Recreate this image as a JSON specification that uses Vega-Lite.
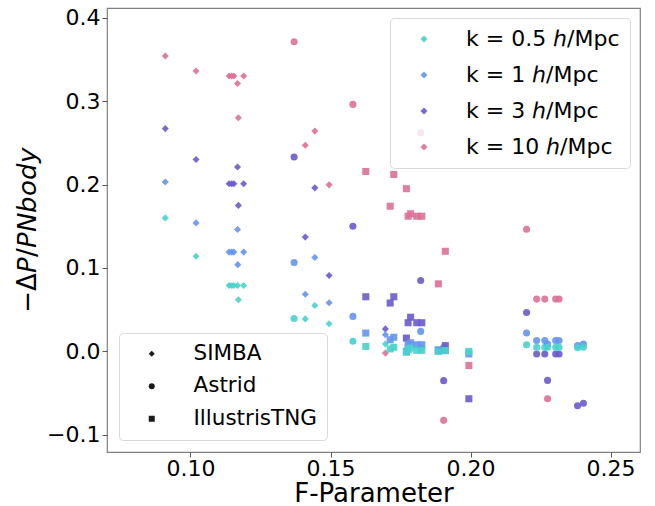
{
 "$schema": "https://vega.github.io/schema/vega-lite/v6.json",
 "width": 533,
 "height": 444,
 "autosize": "none",
 "padding": {"left": 107, "top": 8, "right": 15, "bottom": 54},
 "config": {
  "font": "DejaVu Sans",
  "view": {"stroke": "#808080", "strokeWidth": 1.2},
  "axis": {"grid": false, "domain": false, "tickColor": "#555555", "tickSize": 5, "tickWidth": 1, "labelFontSize": 22, "labelColor": "black", "titleFontSize": 26, "titleFontWeight": "normal", "titleColor": "black"}
 },
 "data": {"values": [
  {"F": 0.091, "dP": 0.354, "k": "k = 10 ℎ/Mpc", "sim": "SIMBA"},
  {"F": 0.091, "dP": 0.267, "k": "k = 3 ℎ/Mpc", "sim": "SIMBA"},
  {"F": 0.091, "dP": 0.203, "k": "k = 1 ℎ/Mpc", "sim": "SIMBA"},
  {"F": 0.091, "dP": 0.160, "k": "k = 0.5 ℎ/Mpc", "sim": "SIMBA"},
  {"F": 0.102, "dP": 0.336, "k": "k = 10 ℎ/Mpc", "sim": "SIMBA"},
  {"F": 0.102, "dP": 0.230, "k": "k = 3 ℎ/Mpc", "sim": "SIMBA"},
  {"F": 0.102, "dP": 0.154, "k": "k = 1 ℎ/Mpc", "sim": "SIMBA"},
  {"F": 0.102, "dP": 0.114, "k": "k = 0.5 ℎ/Mpc", "sim": "SIMBA"},
  {"F": 0.1138, "dP": 0.330, "k": "k = 10 ℎ/Mpc", "sim": "SIMBA"},
  {"F": 0.1138, "dP": 0.201, "k": "k = 3 ℎ/Mpc", "sim": "SIMBA"},
  {"F": 0.1138, "dP": 0.119, "k": "k = 1 ℎ/Mpc", "sim": "SIMBA"},
  {"F": 0.1138, "dP": 0.079, "k": "k = 0.5 ℎ/Mpc", "sim": "SIMBA"},
  {"F": 0.1147, "dP": 0.330, "k": "k = 10 ℎ/Mpc", "sim": "SIMBA"},
  {"F": 0.1147, "dP": 0.201, "k": "k = 3 ℎ/Mpc", "sim": "SIMBA"},
  {"F": 0.1147, "dP": 0.119, "k": "k = 1 ℎ/Mpc", "sim": "SIMBA"},
  {"F": 0.1147, "dP": 0.079, "k": "k = 0.5 ℎ/Mpc", "sim": "SIMBA"},
  {"F": 0.1155, "dP": 0.330, "k": "k = 10 ℎ/Mpc", "sim": "SIMBA"},
  {"F": 0.1155, "dP": 0.201, "k": "k = 3 ℎ/Mpc", "sim": "SIMBA"},
  {"F": 0.1155, "dP": 0.119, "k": "k = 1 ℎ/Mpc", "sim": "SIMBA"},
  {"F": 0.1155, "dP": 0.079, "k": "k = 0.5 ℎ/Mpc", "sim": "SIMBA"},
  {"F": 0.1168, "dP": 0.321, "k": "k = 10 ℎ/Mpc", "sim": "SIMBA"},
  {"F": 0.1168, "dP": 0.221, "k": "k = 3 ℎ/Mpc", "sim": "SIMBA"},
  {"F": 0.1168, "dP": 0.146, "k": "k = 1 ℎ/Mpc", "sim": "SIMBA"},
  {"F": 0.1168, "dP": 0.079, "k": "k = 0.5 ℎ/Mpc", "sim": "SIMBA"},
  {"F": 0.1171, "dP": 0.280, "k": "k = 10 ℎ/Mpc", "sim": "SIMBA"},
  {"F": 0.1171, "dP": 0.175, "k": "k = 3 ℎ/Mpc", "sim": "SIMBA"},
  {"F": 0.1169, "dP": 0.104, "k": "k = 1 ℎ/Mpc", "sim": "SIMBA"},
  {"F": 0.1171, "dP": 0.062, "k": "k = 0.5 ℎ/Mpc", "sim": "SIMBA"},
  {"F": 0.1190, "dP": 0.330, "k": "k = 10 ℎ/Mpc", "sim": "SIMBA"},
  {"F": 0.1190, "dP": 0.201, "k": "k = 3 ℎ/Mpc", "sim": "SIMBA"},
  {"F": 0.1190, "dP": 0.119, "k": "k = 1 ℎ/Mpc", "sim": "SIMBA"},
  {"F": 0.1190, "dP": 0.079, "k": "k = 0.5 ℎ/Mpc", "sim": "SIMBA"},
  {"F": 0.141, "dP": 0.247, "k": "k = 10 ℎ/Mpc", "sim": "SIMBA"},
  {"F": 0.141, "dP": 0.137, "k": "k = 3 ℎ/Mpc", "sim": "SIMBA"},
  {"F": 0.141, "dP": 0.0686, "k": "k = 1 ℎ/Mpc", "sim": "SIMBA"},
  {"F": 0.141, "dP": 0.039, "k": "k = 0.5 ℎ/Mpc", "sim": "SIMBA"},
  {"F": 0.1444, "dP": 0.264, "k": "k = 10 ℎ/Mpc", "sim": "SIMBA"},
  {"F": 0.1444, "dP": 0.196, "k": "k = 3 ℎ/Mpc", "sim": "SIMBA"},
  {"F": 0.1444, "dP": 0.1126, "k": "k = 1 ℎ/Mpc", "sim": "SIMBA"},
  {"F": 0.1444, "dP": 0.055, "k": "k = 0.5 ℎ/Mpc", "sim": "SIMBA"},
  {"F": 0.1495, "dP": 0.1996, "k": "k = 10 ℎ/Mpc", "sim": "SIMBA"},
  {"F": 0.1495, "dP": 0.091, "k": "k = 3 ℎ/Mpc", "sim": "SIMBA"},
  {"F": 0.1495, "dP": 0.0583, "k": "k = 1 ℎ/Mpc", "sim": "SIMBA"},
  {"F": 0.1495, "dP": 0.0332, "k": "k = 0.5 ℎ/Mpc", "sim": "SIMBA"},
  {"F": 0.1696, "dP": -0.002, "k": "k = 10 ℎ/Mpc", "sim": "SIMBA"},
  {"F": 0.1696, "dP": 0.027, "k": "k = 3 ℎ/Mpc", "sim": "SIMBA"},
  {"F": 0.1696, "dP": 0.020, "k": "k = 1 ℎ/Mpc", "sim": "SIMBA"},
  {"F": 0.1696, "dP": 0.009, "k": "k = 0.5 ℎ/Mpc", "sim": "SIMBA"},
  {"F": 0.137, "dP": 0.371, "k": "k = 10 ℎ/Mpc", "sim": "Astrid"},
  {"F": 0.137, "dP": 0.233, "k": "k = 3 ℎ/Mpc", "sim": "Astrid"},
  {"F": 0.137, "dP": 0.1066, "k": "k = 1 ℎ/Mpc", "sim": "Astrid"},
  {"F": 0.137, "dP": 0.0395, "k": "k = 0.5 ℎ/Mpc", "sim": "Astrid"},
  {"F": 0.158, "dP": 0.296, "k": "k = 10 ℎ/Mpc", "sim": "Astrid"},
  {"F": 0.158, "dP": 0.150, "k": "k = 3 ℎ/Mpc", "sim": "Astrid"},
  {"F": 0.158, "dP": 0.042, "k": "k = 1 ℎ/Mpc", "sim": "Astrid"},
  {"F": 0.158, "dP": 0.0123, "k": "k = 0.5 ℎ/Mpc", "sim": "Astrid"},
  {"F": 0.1822, "dP": 0.262, "k": "k = 10 ℎ/Mpc", "sim": "Astrid"},
  {"F": 0.1822, "dP": 0.085, "k": "k = 3 ℎ/Mpc", "sim": "Astrid"},
  {"F": 0.1822, "dP": 0.024, "k": "k = 1 ℎ/Mpc", "sim": "Astrid"},
  {"F": 0.1822, "dP": 0.004, "k": "k = 0.5 ℎ/Mpc", "sim": "Astrid"},
  {"F": 0.1904, "dP": -0.0826, "k": "k = 10 ℎ/Mpc", "sim": "Astrid"},
  {"F": 0.1904, "dP": -0.035, "k": "k = 3 ℎ/Mpc", "sim": "Astrid"},
  {"F": 0.1904, "dP": 0.005, "k": "k = 1 ℎ/Mpc", "sim": "Astrid"},
  {"F": 0.1904, "dP": 0.003, "k": "k = 0.5 ℎ/Mpc", "sim": "Astrid"},
  {"F": 0.2200, "dP": 0.1465, "k": "k = 10 ℎ/Mpc", "sim": "Astrid"},
  {"F": 0.2200, "dP": 0.0467, "k": "k = 3 ℎ/Mpc", "sim": "Astrid"},
  {"F": 0.2200, "dP": 0.022, "k": "k = 1 ℎ/Mpc", "sim": "Astrid"},
  {"F": 0.2200, "dP": 0.008, "k": "k = 0.5 ℎ/Mpc", "sim": "Astrid"},
  {"F": 0.2236, "dP": 0.0627, "k": "k = 10 ℎ/Mpc", "sim": "Astrid"},
  {"F": 0.2236, "dP": -0.003, "k": "k = 3 ℎ/Mpc", "sim": "Astrid"},
  {"F": 0.2236, "dP": 0.013, "k": "k = 1 ℎ/Mpc", "sim": "Astrid"},
  {"F": 0.2236, "dP": 0.005, "k": "k = 0.5 ℎ/Mpc", "sim": "Astrid"},
  {"F": 0.2265, "dP": 0.0627, "k": "k = 10 ℎ/Mpc", "sim": "Astrid"},
  {"F": 0.2265, "dP": -0.003, "k": "k = 3 ℎ/Mpc", "sim": "Astrid"},
  {"F": 0.2265, "dP": 0.013, "k": "k = 1 ℎ/Mpc", "sim": "Astrid"},
  {"F": 0.2265, "dP": 0.005, "k": "k = 0.5 ℎ/Mpc", "sim": "Astrid"},
  {"F": 0.2275, "dP": -0.0567, "k": "k = 10 ℎ/Mpc", "sim": "Astrid"},
  {"F": 0.2275, "dP": -0.0347, "k": "k = 3 ℎ/Mpc", "sim": "Astrid"},
  {"F": 0.2275, "dP": 0.009, "k": "k = 1 ℎ/Mpc", "sim": "Astrid"},
  {"F": 0.2275, "dP": 0.005, "k": "k = 0.5 ℎ/Mpc", "sim": "Astrid"},
  {"F": 0.2304, "dP": 0.0627, "k": "k = 10 ℎ/Mpc", "sim": "Astrid"},
  {"F": 0.2304, "dP": -0.003, "k": "k = 3 ℎ/Mpc", "sim": "Astrid"},
  {"F": 0.2304, "dP": 0.013, "k": "k = 1 ℎ/Mpc", "sim": "Astrid"},
  {"F": 0.2304, "dP": 0.005, "k": "k = 0.5 ℎ/Mpc", "sim": "Astrid"},
  {"F": 0.2316, "dP": 0.0627, "k": "k = 10 ℎ/Mpc", "sim": "Astrid"},
  {"F": 0.2316, "dP": -0.003, "k": "k = 3 ℎ/Mpc", "sim": "Astrid"},
  {"F": 0.2316, "dP": 0.013, "k": "k = 1 ℎ/Mpc", "sim": "Astrid"},
  {"F": 0.2316, "dP": 0.005, "k": "k = 0.5 ℎ/Mpc", "sim": "Astrid"},
  {"F": 0.2382, "dP": -0.065, "k": "k = 3 ℎ/Mpc", "sim": "Astrid"},
  {"F": 0.2382, "dP": 0.0072, "k": "k = 1 ℎ/Mpc", "sim": "Astrid"},
  {"F": 0.2382, "dP": 0.0044, "k": "k = 0.5 ℎ/Mpc", "sim": "Astrid"},
  {"F": 0.2403, "dP": -0.062, "k": "k = 3 ℎ/Mpc", "sim": "Astrid"},
  {"F": 0.2403, "dP": 0.009, "k": "k = 1 ℎ/Mpc", "sim": "Astrid"},
  {"F": 0.2403, "dP": 0.005, "k": "k = 0.5 ℎ/Mpc", "sim": "Astrid"},
  {"F": 0.1626, "dP": 0.2156, "k": "k = 10 ℎ/Mpc", "sim": "IllustrisTNG"},
  {"F": 0.1626, "dP": 0.0655, "k": "k = 3 ℎ/Mpc", "sim": "IllustrisTNG"},
  {"F": 0.1626, "dP": 0.022, "k": "k = 1 ℎ/Mpc", "sim": "IllustrisTNG"},
  {"F": 0.1626, "dP": 0.006, "k": "k = 0.5 ℎ/Mpc", "sim": "IllustrisTNG"},
  {"F": 0.1713, "dP": 0.174, "k": "k = 10 ℎ/Mpc", "sim": "IllustrisTNG"},
  {"F": 0.1713, "dP": 0.058, "k": "k = 3 ℎ/Mpc", "sim": "IllustrisTNG"},
  {"F": 0.1713, "dP": 0.014, "k": "k = 1 ℎ/Mpc", "sim": "IllustrisTNG"},
  {"F": 0.1713, "dP": 0.003, "k": "k = 0.5 ℎ/Mpc", "sim": "IllustrisTNG"},
  {"F": 0.1726, "dP": 0.212, "k": "k = 10 ℎ/Mpc", "sim": "IllustrisTNG"},
  {"F": 0.1726, "dP": 0.0655, "k": "k = 3 ℎ/Mpc", "sim": "IllustrisTNG"},
  {"F": 0.1726, "dP": 0.017, "k": "k = 1 ℎ/Mpc", "sim": "IllustrisTNG"},
  {"F": 0.1726, "dP": 0.005, "k": "k = 0.5 ℎ/Mpc", "sim": "IllustrisTNG"},
  {"F": 0.1771, "dP": 0.195, "k": "k = 10 ℎ/Mpc", "sim": "IllustrisTNG"},
  {"F": 0.1771, "dP": 0.016, "k": "k = 3 ℎ/Mpc", "sim": "IllustrisTNG"},
  {"F": 0.1771, "dP": 0.000, "k": "k = 1 ℎ/Mpc", "sim": "IllustrisTNG"},
  {"F": 0.1771, "dP": -0.001, "k": "k = 0.5 ℎ/Mpc", "sim": "IllustrisTNG"},
  {"F": 0.1777, "dP": 0.162, "k": "k = 10 ℎ/Mpc", "sim": "IllustrisTNG"},
  {"F": 0.1777, "dP": 0.0344, "k": "k = 3 ℎ/Mpc", "sim": "IllustrisTNG"},
  {"F": 0.1777, "dP": 0.008, "k": "k = 1 ℎ/Mpc", "sim": "IllustrisTNG"},
  {"F": 0.1777, "dP": 0.002, "k": "k = 0.5 ℎ/Mpc", "sim": "IllustrisTNG"},
  {"F": 0.1786, "dP": 0.165, "k": "k = 10 ℎ/Mpc", "sim": "IllustrisTNG"},
  {"F": 0.1786, "dP": 0.041, "k": "k = 3 ℎ/Mpc", "sim": "IllustrisTNG"},
  {"F": 0.1786, "dP": 0.0104, "k": "k = 1 ℎ/Mpc", "sim": "IllustrisTNG"},
  {"F": 0.1786, "dP": 0.004, "k": "k = 0.5 ℎ/Mpc", "sim": "IllustrisTNG"},
  {"F": 0.1808, "dP": 0.162, "k": "k = 10 ℎ/Mpc", "sim": "IllustrisTNG"},
  {"F": 0.1808, "dP": 0.0344, "k": "k = 3 ℎ/Mpc", "sim": "IllustrisTNG"},
  {"F": 0.1808, "dP": 0.008, "k": "k = 1 ℎ/Mpc", "sim": "IllustrisTNG"},
  {"F": 0.1808, "dP": 0.0013, "k": "k = 0.5 ℎ/Mpc", "sim": "IllustrisTNG"},
  {"F": 0.1826, "dP": 0.162, "k": "k = 10 ℎ/Mpc", "sim": "IllustrisTNG"},
  {"F": 0.1826, "dP": 0.0344, "k": "k = 3 ℎ/Mpc", "sim": "IllustrisTNG"},
  {"F": 0.1826, "dP": 0.008, "k": "k = 1 ℎ/Mpc", "sim": "IllustrisTNG"},
  {"F": 0.1826, "dP": 0.0013, "k": "k = 0.5 ℎ/Mpc", "sim": "IllustrisTNG"},
  {"F": 0.1885, "dP": 0.081, "k": "k = 10 ℎ/Mpc", "sim": "IllustrisTNG"},
  {"F": 0.1885, "dP": 0.001, "k": "k = 3 ℎ/Mpc", "sim": "IllustrisTNG"},
  {"F": 0.1885, "dP": 0.002, "k": "k = 1 ℎ/Mpc", "sim": "IllustrisTNG"},
  {"F": 0.1885, "dP": 0.000, "k": "k = 0.5 ℎ/Mpc", "sim": "IllustrisTNG"},
  {"F": 0.1910, "dP": 0.120, "k": "k = 10 ℎ/Mpc", "sim": "IllustrisTNG"},
  {"F": 0.1910, "dP": 0.007, "k": "k = 3 ℎ/Mpc", "sim": "IllustrisTNG"},
  {"F": 0.1910, "dP": 0.001, "k": "k = 1 ℎ/Mpc", "sim": "IllustrisTNG"},
  {"F": 0.1910, "dP": 0.001, "k": "k = 0.5 ℎ/Mpc", "sim": "IllustrisTNG"},
  {"F": 0.1994, "dP": -0.0168, "k": "k = 10 ℎ/Mpc", "sim": "IllustrisTNG"},
  {"F": 0.1994, "dP": -0.0567, "k": "k = 3 ℎ/Mpc", "sim": "IllustrisTNG"},
  {"F": 0.1994, "dP": -0.003, "k": "k = 1 ℎ/Mpc", "sim": "IllustrisTNG"},
  {"F": 0.1994, "dP": 0.000, "k": "k = 0.5 ℎ/Mpc", "sim": "IllustrisTNG"}
 ]},
 "mark": {"type": "point", "filled": true, "opacity": 0.9, "strokeWidth": 0, "size": 50},
 "encoding": {
  "x": {"field": "F", "type": "quantitative",
        "scale": {"domain": [0.0702, 0.2605], "nice": false, "zero": false},
        "axis": {"title": "F-Parameter", "values": [0.10, 0.15, 0.20, 0.25], "format": ".2f", "labelPadding": 1, "titlePadding": 1}},
  "y": {"field": "dP", "type": "quantitative",
        "scale": {"domain": [-0.1205, 0.4115], "nice": false, "zero": false},
        "axis": {"title": "−Δ𝘗/𝘗𝘕𝘣𝘰𝘥𝘺", "values": [-0.1, 0.0, 0.1, 0.2, 0.3, 0.4], "format": ".1f", "labelPadding": 2, "titlePadding": 6}},
  "color": {"field": "k", "type": "nominal",
        "scale": {"domain": ["k = 0.5 ℎ/Mpc", "k = 1 ℎ/Mpc", "k = 3 ℎ/Mpc", "k = 10 ℎ/Mpc"], "range": ["#48D1CC", "#6495ED", "#6A5ACD", "#DB7093"]},
        "legend": {"title": null, "orient": "top-right", "offset": 10, "labelFontSize": 22, "labelColor": "black", "symbolType": "diamond", "symbolSize": 50, "symbolOpacity": 0.9, "padding": 10, "rowPadding": 14, "symbolOffset": 13, "labelOffset": 31, "fillColor": "rgba(255,255,255,0.8)", "strokeColor": "#d9d9d9", "cornerRadius": 4}},
  "shape": {"field": "sim", "type": "nominal",
        "scale": {"domain": ["SIMBA", "Astrid", "IllustrisTNG"], "range": ["diamond", "circle", "square"]},
        "legend": {"title": null, "orient": "bottom-left", "offset": 12, "labelFontSize": 21.5, "labelColor": "black", "symbolSize": 36, "symbolFillColor": "black", "symbolStrokeColor": "black", "symbolStrokeWidth": 0, "padding": 10, "rowPadding": 9.5, "symbolOffset": 12, "labelOffset": 31, "fillColor": "rgba(255,255,255,0.8)", "strokeColor": "#d9d9d9", "cornerRadius": 4}}
 }
}
